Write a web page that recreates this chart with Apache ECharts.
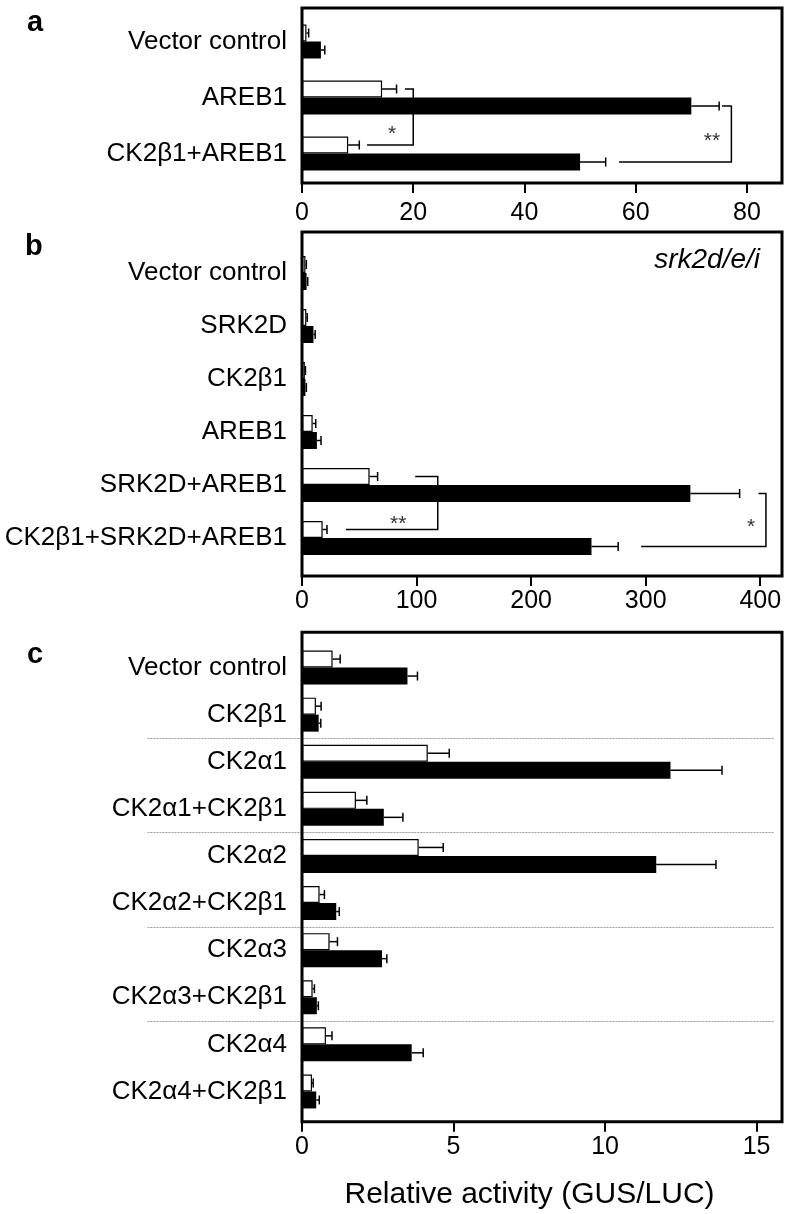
<!DOCTYPE html>
<html><head><meta charset="utf-8">
<script src="https://cdn.jsdelivr.net/npm/echarts@6/dist/echarts.min.js"></script>
<style>html,body{margin:0;padding:0;background:#fff}#c{width:786px;height:1214px}</style>
</head><body><div id="c"></div>
<script>
// ---------- Panel a ----------
const aCategories = ['Vector control', 'AREB1', 'CK2β1+AREB1'];
const aWhite    = [0.8, 14.4, 8.3];
const aWhiteErr = [0.4, 2.6, 2.0];
const aBlack    = [3.4, 70.0, 50.0];
const aBlackErr = [0.7, 5.0, 4.6];
const aTicks    = [0, 20, 40, 60, 80];

// ---------- Panel b ----------
const bCategories = ['Vector control', 'SRK2D', 'CK2β1', 'AREB1', 'SRK2D+AREB1', 'CK2β1+SRK2D+AREB1'];
const bWhite    = [3.0, 3.8, 2.5, 9.3, 59, 18];
const bWhiteErr = [0.8, 0.8, 0.5, 2.7, 7, 3.8];
const bBlack    = [4.0, 10, 3.0, 13, 339, 252.7];
const bBlackErr = [1.0, 1.5, 0.8, 3.6, 43, 23.3];
const bTicks    = [0, 100, 200, 300, 400];

// ---------- Panel c ----------
const cCategories = ['Vector control', 'CK2β1', 'CK2α1', 'CK2α1+CK2β1', 'CK2α2', 'CK2α2+CK2β1', 'CK2α3', 'CK2α3+CK2β1', 'CK2α4', 'CK2α4+CK2β1'];
const cWhite    = [1.01, 0.46, 4.15, 1.78, 3.85, 0.58, 0.91, 0.35, 0.79, 0.33];
const cWhiteErr = [0.25, 0.17, 0.71, 0.36, 0.81, 0.16, 0.26, 0.06, 0.20, 0.04];
const cBlack    = [3.48, 0.55, 12.16, 2.70, 11.69, 1.13, 2.64, 0.49, 3.62, 0.47];
const cBlackErr = [0.33, 0.07, 1.70, 0.63, 1.97, 0.10, 0.16, 0.05, 0.38, 0.10];
const cTicks    = [0, 5, 10, 15];
const cSeparatorsAfter = [1, 3, 5, 7];

// significance brackets: side 0 = white bar, 1 = black bar
const aBrackets = [
  {from: 1, to: 2, side: 0, xTop: 18.5, xBottom: 11.7, xv: 20,   label: '*',  lx: 16.2, lf: 0.72},
  {from: 1, to: 2, side: 1, xTop: 75.5, xBottom: 57.0, xv: 77.2, label: '**', lx: 73.7, lf: 0.54}
];
const bBrackets = [
  {from: 4, to: 5, side: 0, xTop: 98.8,  xBottom: 38.3,  xv: 118.5, label: '**', lx: 84,  lf: 0.80},
  {from: 4, to: 5, side: 1, xTop: 398.5, xBottom: 296.0, xv: 405,   label: '*',  lx: 392, lf: 0.54}
];

// ---------- layout ----------
const FONT = '"Liberation Sans", Arial, Helvetica, sans-serif';
const BW = 17;
const LEFT = 302, RIGHT = 4;
const panels = [
  {cats: aCategories, w: aWhite, we: aWhiteErr, b: aBlack, be: aBlackErr, ticks: aTicks, max: 86.3,
   frameTop: 8, frameH: 175, dataTop: 13.5, dataH: 168, margin: 19, brackets: aBrackets},
  {cats: bCategories, w: bWhite, we: bWhiteErr, b: bBlack, be: bBlackErr, ticks: bTicks, max: 419,
   frameTop: 232, frameH: 344, dataTop: 246.5, dataH: 318, margin: 14, brackets: bBrackets},
  {cats: cCategories, w: cWhite, we: cWhiteErr, b: cBlack, be: cBlackErr, ticks: cTicks, max: 15.84,
   frameTop: 632.3, frameH: 489.4, dataTop: 644, dataH: 471, margin: 14, brackets: [], seps: cSeparatorsAfter,
   sepFrom: -5.1, sepTo: 15.58}
];

const grid = [], xAxis = [], yAxis = [], series = [];

function errRender(params, api) {
  const v = api.value(0), idx = api.value(1), e = api.value(2), side = api.value(3);
  const p0 = api.coord([v, idx]);
  const p1 = api.coord([v + e, idx]);
  const y = p0[1] + (side === 0 ? -BW / 2 : BW / 2);
  const st = {stroke: '#000', lineWidth: 1.5};
  return {type: 'group', children: [
    {type: 'line', shape: {x1: p0[0], y1: y, x2: p1[0], y2: y}, style: st},
    {type: 'line', shape: {x1: p1[0], y1: y - 4.5, x2: p1[0], y2: y + 4.5}, style: st}
  ]};
}

panels.forEach((p, i) => {
  const fg = 2 * i, dg = 2 * i + 1;
  grid.push({left: LEFT, right: RIGHT, top: p.frameTop, height: p.frameH,
             show: true, borderColor: '#000', borderWidth: 3, backgroundColor: 'transparent', z: 5});
  grid.push({left: LEFT, right: RIGHT, top: p.dataTop, height: p.dataH, show: false});
  xAxis.push({gridIndex: fg, type: 'value', min: 0, max: p.max,
    axisLine: {show: false}, splitLine: {show: false},
    axisTick: {show: true, inside: false, length: 10, lineStyle: {color: '#000', width: 2}, customValues: p.ticks},
    axisLabel: {show: true, customValues: p.ticks, margin: p.margin - 1, color: '#000', fontSize: 25, fontFamily: FONT}
  });
  xAxis.push({gridIndex: dg, type: 'value', min: 0, max: p.max, show: false});
  yAxis.push({gridIndex: fg, type: 'value', show: false});
  yAxis.push({gridIndex: dg, type: 'category', data: p.cats, inverse: true,
    axisLine: {show: false}, axisTick: {show: false}, splitLine: {show: false},
    axisLabel: {color: '#000', fontSize: 26, fontFamily: FONT, margin: 15}
  });
  series.push({type: 'bar', xAxisIndex: dg, yAxisIndex: dg, data: p.w, barWidth: BW, barGap: '0%',
    itemStyle: {color: '#fff', borderColor: '#000', borderWidth: 1.2}, silent: true});
  series.push({type: 'bar', xAxisIndex: dg, yAxisIndex: dg, data: p.b, barWidth: BW, barGap: '0%',
    itemStyle: {color: '#000', borderColor: '#000', borderWidth: 0}, silent: true});
  const errData = [];
  p.w.forEach((v, k) => errData.push([v, k, p.we[k], 0]));
  p.b.forEach((v, k) => errData.push([v, k, p.be[k], 1]));
  series.push({type: 'custom', xAxisIndex: dg, yAxisIndex: dg, data: errData, encode: {x: 0, y: 1},
    renderItem: errRender, silent: true, z: 3});
  if (p.brackets.length) {
    const br = p.brackets;
    series.push({type: 'custom', xAxisIndex: dg, yAxisIndex: dg, encode: {x: 0, y: 1},
      data: br.map(b => [b.xv, b.from]), silent: true, z: 4, clip: false,
      renderItem: function (params, api) {
        const b = br[params.dataIndex];
        const off = b.side === 0 ? -BW / 2 : BW / 2;
        const y1 = api.coord([0, b.from])[1] + off;
        const y2 = api.coord([0, b.to])[1] + off;
        const xt = api.coord([b.xTop, b.from])[0];
        const xb = api.coord([b.xBottom, b.from])[0];
        const xv = api.coord([b.xv, b.from])[0];
        const lx = api.coord([b.lx, b.from])[0];
        const ly = y1 + (y2 - y1) * b.lf;
        return {type: 'group', children: [
          {type: 'polyline', shape: {points: [[xt, y1], [xv, y1], [xv, y2], [xb, y2]]},
           style: {stroke: '#000', lineWidth: 1.5, fill: null}},
          {type: 'text', x: lx, y: ly + 5, style: {text: b.label, fill: '#333', font: '21px ' + FONT,
           align: 'center', verticalAlign: 'middle'}}
        ]};
      }});
  }
  if (p.seps) {
    const sp = p;
    series.push({type: 'custom', xAxisIndex: dg, yAxisIndex: dg, encode: {x: 0, y: 1},
      data: p.seps.map(s => [0, s]), silent: true, z: 1, clip: false,
      renderItem: function (params, api) {
        const k = api.value(1);
        const y = Math.round((api.coord([0, k])[1] + api.coord([0, k + 1])[1]) / 2) + 0.5;
        const x1 = api.coord([sp.sepFrom, k])[0], x2 = api.coord([sp.sepTo, k])[0];
        return {type: 'line', shape: {x1: x1, y1: y, x2: x2, y2: y},
          style: {stroke: '#999', lineWidth: 1, lineDash: [2, 1]}};
      }});
  }
});

const chart = echarts.init(document.getElementById('c'), null, {renderer: 'canvas'});
chart.setOption({
  animation: false,
  backgroundColor: '#fff',
  grid, xAxis, yAxis, series,
  graphic: [
    {type: 'text', left: 27, top: 8, style: {text: 'a', font: 'bold 29px ' + FONT, fill: '#000'}},
    {type: 'text', left: 25, top: 232, style: {text: 'b', font: 'bold 29px ' + FONT, fill: '#000'}},
    {type: 'text', left: 27, top: 640, style: {text: 'c', font: 'bold 29px ' + FONT, fill: '#000'}},
    {type: 'text', right: 26, top: 246, style: {text: 'srk2d/e/i', font: 'italic 28px ' + FONT, fill: '#000'}},
    {type: 'text', x: 529.5, y: 1195, style: {text: 'Relative activity (GUS/LUC)', font: '30px ' + FONT, fill: '#000',
      align: 'center', verticalAlign: 'middle'}}
  ]
});
</script>
</body></html>
